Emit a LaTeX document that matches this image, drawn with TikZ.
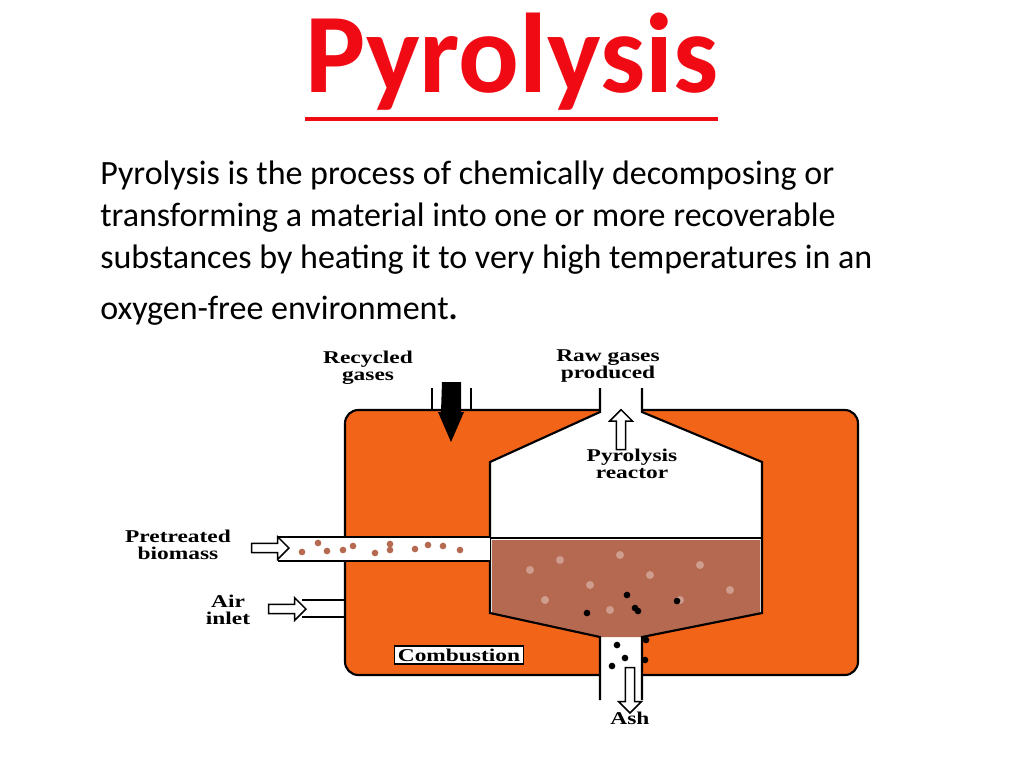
\documentclass[tikz,border=0pt]{standalone}
\usepackage{fontspec}
\setmainfont{Carlito}
\newfontfamily\labelfont{Liberation Serif}
\usetikzlibrary{shapes.arrows,positioning}
\definecolor{titlered}{RGB}{240,10,20}
\definecolor{furnaceorange}{RGB}{242,100,24}
\definecolor{biomassbrown}{RGB}{180,105,80}
\begin{document}
\begin{tikzpicture}[
        x=0.75pt, y=-0.75pt,
        lbl/.style={font=\labelfont\bfseries\fontsize{13.5}{13}\selectfont, align=center, inner sep=1pt, xscale=1.3},
        bodytext/.style={anchor=west, font=\fontsize{25.5}{25.5}\selectfont, inner sep=0pt},
        wall/.style={line width=1.6pt},
        openarrow/.style={single arrow, draw, fill=white, line width=1.1pt, minimum height=#1, minimum width=17pt, single arrow head extend=3pt, inner sep=1.5pt},
        particle/.style={circle, fill=#1, inner sep=0pt, minimum size=5pt}
    ]
        \useasboundingbox (0,0) rectangle (1024,768);
        % title and text
        \node[font=\bfseries\fontsize{85}{85}\selectfont, text=titlered] (title) at (512,62) {Pyrolysis};
        \draw[titlered, line width=3pt] (305,119) -- (718,119);
        \node[bodytext] (l1) at (100,176) {Pyrolysis is the process of chemically decomposing or};
        \node[bodytext] (l2) at (100,218) {transforming a material into one or more recoverable};
        \node[bodytext] (l3) at (100,260) {substances by heating it to very high temperatures in an};
        \node[bodytext] (l4) at (100,311) {oxygen-free environment\textbf{.}};

        % furnace
        \draw[wall, fill=furnaceorange, rounded corners=10pt] (345,410) rectangle (858,675);
        % reactor body
        \fill[white] (600,388) -- (600,412) -- (490,462) -- (490,613) -- (600,637) -- (600,700)
            -- (642,700) -- (642,637) -- (762,613) -- (762,462) -- (642,412) -- (642,388) -- cycle;
        \fill[biomassbrown] (492,540) -- (760,540) -- (760,613) -- (642,637) -- (600,637) -- (492,613) -- cycle;
        \foreach \sx/\sy in {530/570,560/560,590/585,650/575,700/565,620/555,680/600,545/600,730/590,610/610}
            \fill[white, opacity=0.35] (\sx,\sy) circle (4);
        \draw[wall] (600,388) -- (600,412) -- (490,462) -- (490,613) -- (600,637) -- (600,700);
        \draw[wall] (642,388) -- (642,412) -- (762,462) -- (762,613) -- (642,637) -- (642,700);
        \draw[wall] (490,538) -- (762,538);
        % char particles
        \foreach \cx/\cy in {627/595,677/601,635/608,587/613,638/611,646/640,617/645,625/658,645/660,612/666}
            \node[particle=black] at (\cx,\cy) {};

        % feed pipe
        \fill[white] (278,538) rectangle (490,560);
        \draw[wall] (278,537) -- (490,537);
        \draw[wall] (278,561) -- (490,561);
        \foreach \px/\py in {302/552,318/543,327/551,343/550,353/546,375/553,390/550,390/544,415/549,428/545,443/546,460/550}
            \node[particle=biomassbrown] at (\px,\py) {};
        % air inlet
        \draw[wall] (302,600) -- (345,600);
        \draw[wall] (302,617) -- (345,617);
        % recycled gas pipe
        \draw[wall] (432,388) -- (432,410);
        \draw[wall] (471,388) -- (471,410);
        \fill[black] (442,382) -- (461,382) -- (461,412) -- (464,412) -- (451,442) -- (438,412) -- (441,412) -- cycle;

        % arrows
        \node[openarrow=30pt, rotate=90] (gasup) at (621,432) {};
        \node[openarrow=28pt] (feedin) at (268,548) {};
        \node[openarrow=28pt] (airin) at (285,609) {};
        \node[openarrow=34pt, rotate=-90] (ashout) at (630,688) {};

        % labels
        \node[lbl] (recycled) at (368,368) {Recycled\\gases};
        \node[lbl] (rawgas) at (608,366) {Raw gases\\produced};
        \node[lbl] (reactor) at (632,464) {Pyrolysis\\reactor};
        \node[lbl] (biomass) at (178,545) {Pretreated\\biomass};
        \node[lbl] (air) at (228,610) {Air\\inlet};
        \node[lbl, draw, line width=1.2pt, fill=white, inner sep=2pt] (combustion) at (459,655) {Combustion};
        \node[lbl] (ash) at (630,718) {Ash};
    \end{tikzpicture}
\end{document}
